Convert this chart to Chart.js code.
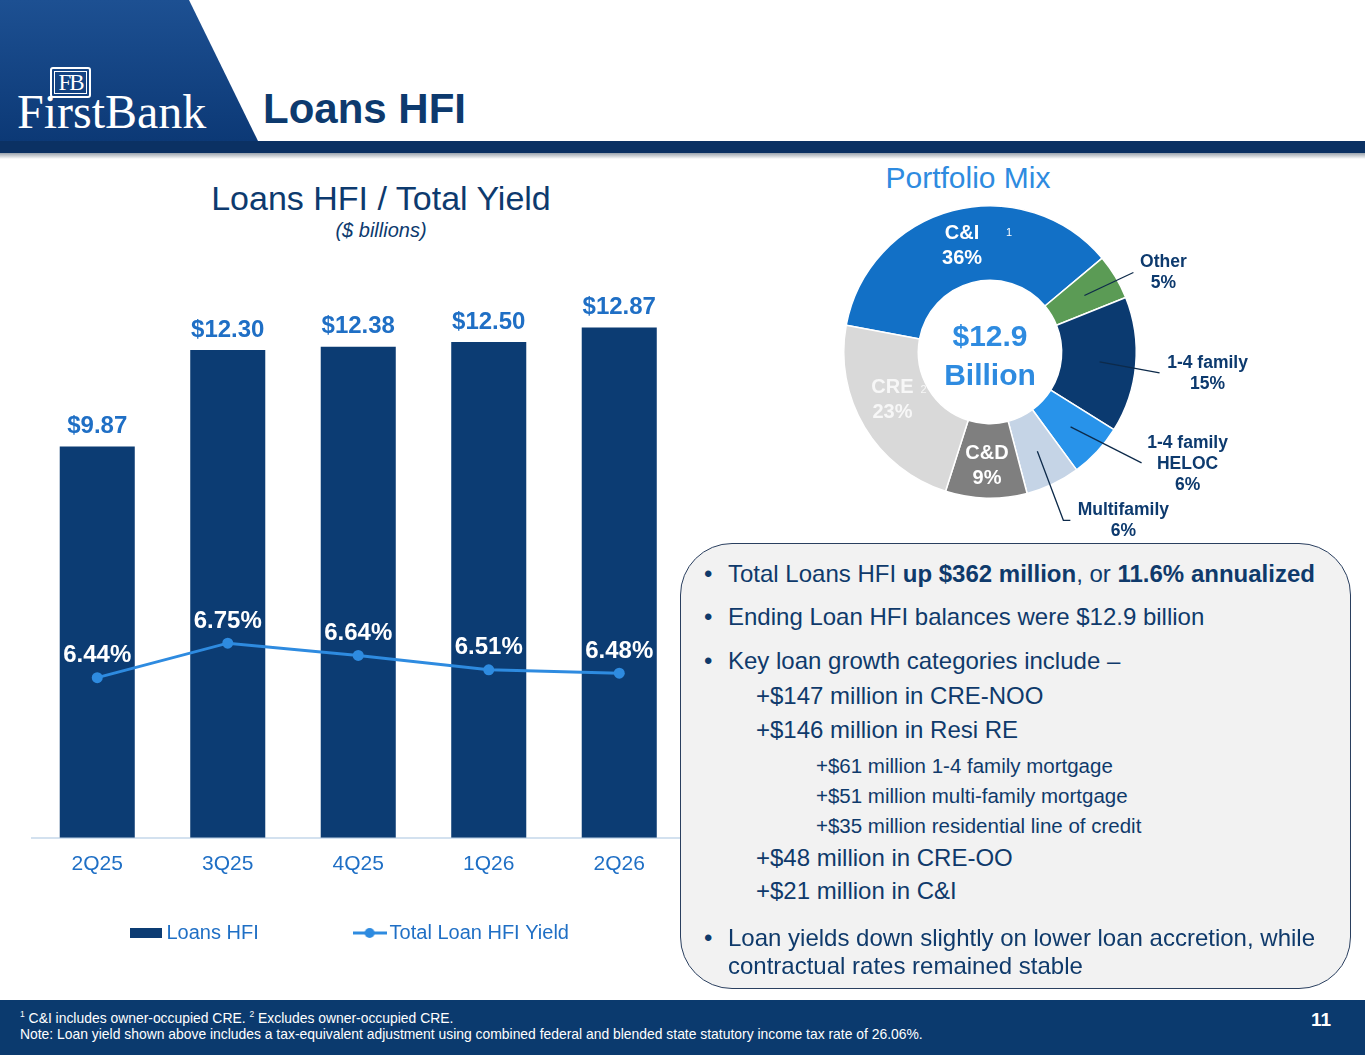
<!DOCTYPE html>
<html>
<head>
<meta charset="utf-8">
<title>Loans HFI</title>
<script src="https://cdn.jsdelivr.net/npm/chart.js@4.4.1/dist/chart.umd.min.js"></script>
<style>
  body { margin: 0; width: 1365px; height: 1055px; position: relative; overflow: hidden; background: #fff;
         font-family: "Liberation Sans", Arial, sans-serif; color: #0f3a6b; }
  .abs { position: absolute; white-space: nowrap; }
  #hdr { position: absolute; left: 0; top: 0; }
  .logo { left: 17px; top: 82px; font-family: "Liberation Serif", "DejaVu Serif", serif; font-size: 48px; color: #fff; line-height: 60px; }
  .mono { left: 50px; top: 67px; width: 37px; height: 27px; border: 2px solid #fff; border-radius: 3px; }
  .mono div { position: absolute; left: 2px; top: 2px; right: 2px; bottom: 2px; border: 1px solid #fff;
              font-family: "Liberation Serif", serif; font-size: 23px; line-height: 21px; color: #fff; text-align: center; letter-spacing: -2px; }
  .title { left: 263px; top: 84px; font-size: 42px; font-weight: bold; color: #0d3a6e; line-height: 50px; }
  .ctitle { left: 181px; width: 400px; text-align: center; top: 178px; font-size: 34px; line-height: 40px; color: #0d3a6e; }
  .csub { left: 181px; width: 400px; text-align: center; top: 218px; font-size: 20px; line-height: 24px; font-style: italic; color: #0d3a6e; }
  .ptitle { left: 868px; width: 200px; text-align: center; top: 160px; font-size: 30px; line-height: 36px; color: #2e8be0; }
  #bars { position: absolute; left: 0; top: 240px; }
  #mix { position: absolute; left: 830px; top: 190px; z-index: 2; }
  .box { position: absolute; left: 680px; top: 543px; width: 669px; height: 444px; border: 1.5px solid #2a3f5f;
         border-radius: 52px; background: #f2f2f2; }
  .t { font-size: 24px; line-height: 28px; }
  .s { font-size: 20.5px; line-height: 24px; }
  .foot { position: absolute; left: 0; top: 1000px; width: 1365px; height: 55px; background: #0b3a6e; }
  .fn { left: 20px; font-size: 13.9px; line-height: 17px; color: #fff; }
  .fn sup { font-size: 8.5px; vertical-align: baseline; position: relative; top: -6px; }
  .pg { left: 1311px; top: 1008px; font-size: 19px; font-weight: bold; color: #fff; line-height: 24px; }
</style>
</head>
<body>
<svg id="hdr" width="1365" height="165">
  <defs>
    <linearGradient id="hg" x1="0" y1="0" x2="0" y2="1">
      <stop offset="0" stop-color="#1d5092"/>
      <stop offset="1" stop-color="#0c3976"/>
    </linearGradient>
    <linearGradient id="sh" x1="0" y1="0" x2="0" y2="1">
      <stop offset="0" stop-color="#9aa3ad"/>
      <stop offset="1" stop-color="#ffffff"/>
    </linearGradient>
  </defs>
  <polygon points="0,0 189,0 258,141 0,141" fill="url(#hg)"/>
  <rect x="0" y="141" width="1365" height="12" fill="#0b3163"/>
  <rect x="0" y="153" width="1365" height="6" fill="url(#sh)"/>
</svg>
<div class="abs mono"><div>FB</div></div>
<div class="abs logo">FirstBank</div>
<div class="abs title">Loans HFI</div>

<div class="abs ctitle">Loans HFI / Total Yield</div>
<div class="abs csub">($ billions)</div>
<div class="abs ptitle">Portfolio Mix</div>

<canvas id="bars" width="700" height="720"></canvas>

<div class="box"></div>
<div class="abs t" style="left:704px;top:560px;">•</div>
<div class="abs t" style="left:728px;top:560px;">Total Loans HFI <b>up $362 million</b>, or <b>11.6% annualized</b></div>
<div class="abs t" style="left:704px;top:603px;">•</div>
<div class="abs t" style="left:728px;top:603px;">Ending Loan HFI balances were $12.9 billion</div>
<div class="abs t" style="left:704px;top:647px;">•</div>
<div class="abs t" style="left:728px;top:647px;">Key loan growth categories include –</div>
<div class="abs t" style="left:756px;top:682px;">+$147 million in CRE-NOO</div>
<div class="abs t" style="left:756px;top:716px;">+$146 million in Resi RE</div>
<div class="abs s" style="left:816px;top:754px;">+$61 million 1-4 family mortgage</div>
<div class="abs s" style="left:816px;top:784px;">+$51 million multi-family mortgage</div>
<div class="abs s" style="left:816px;top:814px;">+$35 million residential line of credit</div>
<div class="abs t" style="left:756px;top:844px;">+$48 million in CRE-OO</div>
<div class="abs t" style="left:756px;top:877px;">+$21 million in C&amp;I</div>
<div class="abs t" style="left:704px;top:924px;">•</div>
<div class="abs t" style="left:728px;top:924px;">Loan yields down slightly on lower loan accretion, while</div>
<div class="abs t" style="left:728px;top:952px;">contractual rates remained stable</div>

<canvas id="mix" width="440" height="360"></canvas>

<div class="foot"></div>
<div class="abs fn" style="top:1010px;"><sup>1</sup> C&amp;I includes owner-occupied CRE. <sup>2</sup> Excludes owner-occupied CRE.</div>
<div class="abs fn" style="top:1026px;">Note: Loan yield shown above includes a tax-equivalent adjustment using combined federal and blended state statutory income tax rate of 26.06%.</div>
<div class="abs pg">11</div>

<script>
// quarterly data
const quarters = ['2Q25', '3Q25', '4Q25', '1Q26', '2Q26'];
const loansHFI = [9.87, 12.30, 12.38, 12.50, 12.87];
const loanYield = [6.44, 6.75, 6.64, 6.51, 6.48];

// portfolio mix (%)
const mixLabels = ['C&I', 'Other', '1-4 family', '1-4 family HELOC', 'Multifamily', 'C&D', 'CRE'];
const mixShares = [36, 5, 15, 6, 6, 9, 23];
const mixColors = ['#1270c6', '#5b9b55', '#0b3a70', '#2893ea', '#c5d4e6', '#7f7f7f', '#d9d9d9'];

const NAVY = '#0c3c73';
const BLUE = '#2e8be0';
const LABEL_BLUE = '#1f6fc5';
const FONT = '"Liberation Sans", Arial, sans-serif';

Chart.defaults.font.family = FONT;

function swatch(w, h, draw) {
  const c = document.createElement('canvas');
  c.width = w; c.height = h;
  draw(c.getContext('2d'));
  return c;
}
const barSwatch = swatch(32, 10, ctx => { ctx.fillStyle = NAVY; ctx.fillRect(0, 0, 32, 10); });
const lineSwatch = swatch(34, 12, ctx => {
  ctx.strokeStyle = BLUE; ctx.lineWidth = 3;
  ctx.beginPath(); ctx.moveTo(0, 6); ctx.lineTo(34, 6); ctx.stroke();
  ctx.fillStyle = BLUE; ctx.beginPath(); ctx.arc(17, 6, 5, 0, Math.PI * 2); ctx.fill();
});

// value labels above the bars and the yield points
const valueLabels = {
  id: 'valueLabels',
  afterDatasetsDraw(chart) {
    const ctx = chart.ctx;
    ctx.save();
    ctx.textAlign = 'center';
    ctx.textBaseline = 'middle';
    ctx.font = 'bold 24px ' + FONT;
    chart.getDatasetMeta(0).data.forEach((bar, i) => {
      ctx.fillStyle = LABEL_BLUE;
      ctx.fillText('$' + loansHFI[i].toFixed(2), bar.x, bar.y - 20);
    });
    chart.getDatasetMeta(1).data.forEach((pt, i) => {
      ctx.fillStyle = '#ffffff';
      ctx.fillText(loanYield[i].toFixed(2) + '%', pt.x, pt.y - 22);
    });
    ctx.restore();
  }
};

new Chart(document.getElementById('bars'), {
  type: 'bar',
  data: {
    labels: quarters,
    datasets: [
      {
        type: 'bar',
        label: 'Loans HFI',
        data: loansHFI,
        backgroundColor: NAVY,
        barPercentage: 1,
        categoryPercentage: 0.575,
        yAxisID: 'y',
        order: 2
      },
      {
        type: 'line',
        label: 'Total Loan HFI Yield',
        data: loanYield,
        borderColor: BLUE,
        backgroundColor: BLUE,
        borderWidth: 3,
        pointRadius: 5.5,
        pointBackgroundColor: BLUE,
        pointBorderWidth: 0,
        tension: 0,
        yAxisID: 'y2',
        order: 1
      }
    ]
  },
  options: {
    responsive: false,
    animation: false,
    layout: { padding: { left: 32, right: 15.5, top: 22.8, bottom: 7 } },
    scales: {
      x: {
        grid: { display: false, drawTicks: false },
        border: { display: true, color: '#d3e1ef', width: 2 },
        ticks: { color: LABEL_BLUE, font: { size: 21 }, padding: 14 },
        afterFit(scale) { scale.height += 20; }
      },
      y: { display: false, min: 0, max: 14.5 },
      y2: { display: false, min: 5, max: 10.17 }
    },
    plugins: {
      tooltip: { enabled: false },
      legend: {
        position: 'bottom',
        labels: {
          usePointStyle: true,
          pointStyleWidth: 20,
          padding: 12,
          color: LABEL_BLUE,
          font: { size: 20 },
          generateLabels(chart) {
            const items = Chart.defaults.plugins.legend.labels.generateLabels(chart);
            items.forEach(it => {
              it.pointStyle = it.datasetIndex === 0 ? barSwatch : lineSwatch;
              it.text += '\u00a0'.repeat(it.datasetIndex === 0 ? 16 : 2);
            });
            return items.sort((a, b) => a.datasetIndex - b.datasetIndex);
          }
        }
      }
    }
  },
  plugins: [valueLabels]
});

// doughnut labels: inside labels sit on the ring, outside ones get a leader line
const mixPlacement = [
  { inside: true, r: 110, color: '#ffffff', lines: ['C&I', '36%'], sup: { text: '1', dx: 47, dy: 0 } },
  { r: 110, path: [[49, -23]], text: [30, -10], lines: ['Other', '5%'] },
  { r: 110, path: [[60, 11]], text: [48, -10], lines: ['1-4 family', '15%'] },
  { r: 110, path: [[71, 36]], text: [46, -20], lines: ['1-4 family', 'HELOC', '6%'] },
  { r: 110, path: [[26, 69], [33, 69]], text: [53, -10], lines: ['Multifamily', '6%'] },
  { inside: true, r: 114, color: '#ffffff', lines: ['C&D', '9%'] },
  { inside: true, r: 109, dx: -4, dy: -8, color: '#f7f7f7', lines: ['CRE', '23%'], sup: { text: '2', dx: 31, dy: 2 } }
];

const mixLabelsPlugin = {
  id: 'mixLabels',
  afterDraw(chart) {
    const ctx = chart.ctx;
    const arcs = chart.getDatasetMeta(0).data;
    ctx.save();
    ctx.textAlign = 'center';
    ctx.textBaseline = 'middle';
    arcs.forEach((arc, i) => {
      const p = mixPlacement[i];
      const { x, y, startAngle, endAngle } = arc.getProps(['x', 'y', 'startAngle', 'endAngle'], true);
      const mid = (startAngle + endAngle) / 2;
      const sx = x + p.r * Math.cos(mid);
      const sy = y + p.r * Math.sin(mid);
      if (p.inside) {
        const cx = sx + (p.dx || 0);
        const cy = sy + (p.dy || 0);
        ctx.fillStyle = p.color;
        ctx.font = 'bold 20px ' + FONT;
        const top = cy - (p.lines.length - 1) * 12.5;
        p.lines.forEach((t, k) => ctx.fillText(t, cx, top + k * 25));
        if (p.sup) {
          ctx.font = '11px ' + FONT;
          ctx.fillText(p.sup.text, cx + p.sup.dx, top + p.sup.dy);
        }
      } else {
        ctx.strokeStyle = '#0d2a4a';
        ctx.lineWidth = 1.3;
        ctx.beginPath();
        ctx.moveTo(sx, sy);
        let ex = sx, ey = sy;
        p.path.forEach(([dx, dy]) => { ex = sx + dx; ey = sy + dy; ctx.lineTo(ex, ey); });
        ctx.stroke();
        ctx.fillStyle = '#0d3a6e';
        ctx.font = 'bold 17.5px ' + FONT;
        p.lines.forEach((t, k) => ctx.fillText(t, ex + p.text[0], ey + p.text[1] + k * 21));
      }
    });
    // total in the hole
    const c = arcs[0];
    ctx.fillStyle = BLUE;
    ctx.font = 'bold 30px ' + FONT;
    ctx.fillText('$12.9', c.x, c.y - 14);
    ctx.fillText('Billion', c.x, c.y + 25);
    ctx.restore();
  }
};

new Chart(document.getElementById('mix'), {
  type: 'doughnut',
  data: {
    labels: mixLabels,
    datasets: [{
      data: mixShares,
      backgroundColor: mixColors,
      borderColor: '#ffffff',
      borderWidth: 1.5
    }]
  },
  options: {
    responsive: false,
    animation: false,
    rotation: -79.5,
    cutout: '49%',
    layout: { padding: { left: 13, right: 133, top: 15, bottom: 51 } },
    plugins: { legend: { display: false }, tooltip: { enabled: false } }
  },
  plugins: [mixLabelsPlugin]
});
</script>
</body>
</html>
